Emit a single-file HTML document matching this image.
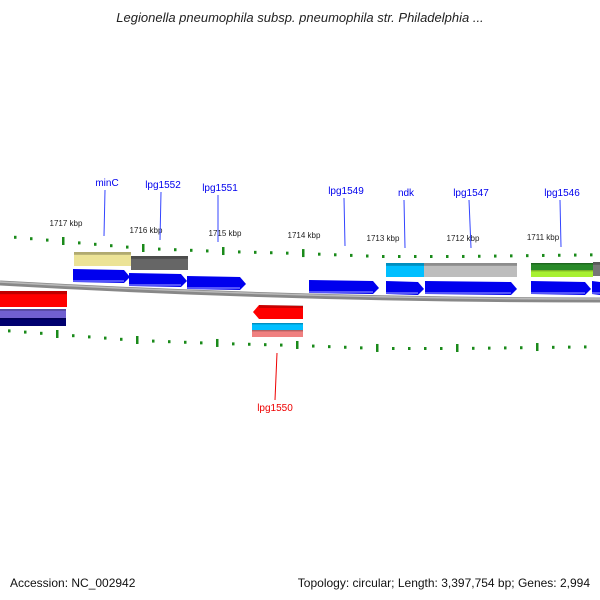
<!DOCTYPE html>
<html><head><meta charset="utf-8"><style>
body{margin:0;background:#fff;}
svg{display:block;font-family:"Liberation Sans",sans-serif;}
</style></head><body>
<svg id="map" width="600" height="600" viewBox="0 0 600 600">
<defs>
<linearGradient id="bb" x1="0" y1="0" x2="0" y2="1"><stop offset="0" stop-color="#aaa"/><stop offset="0.5" stop-color="#777"/><stop offset="1" stop-color="#bbb"/></linearGradient>
</defs>
<text x="300" y="22" text-anchor="middle" font-size="13" font-style="italic" fill="#222">Legionella pneumophila subsp. pneumophila str. Philadelphia ...</text>
<path d="M0,283 Q300,300 600,300" stroke="#888" stroke-width="5" fill="none"/>
<path d="M0,282 Q300,299 600,299" stroke="#bbb" stroke-width="1.5" fill="none"/>
<g id="ticks"></g>
<g id="genes"></g>
<g id="labels"></g>
<text x="10" y="587" font-size="12" fill="#111">Accession: NC_002942</text>
<text x="590" y="587" text-anchor="end" font-size="12" fill="#111">Topology: circular; Length: 3,397,754 bp; Genes: 2,994</text>
</svg>
<script>
const NS="http://www.w3.org/2000/svg";
const kbpLabels=["1717 kbp","1716 kbp","1715 kbp","1714 kbp","1713 kbp","1712 kbp","1711 kbp"];
const upperMajorX=[63,143,222,301,380,460,540];
const upperMajorY=[241,248,251,253,256,256,255];
const lowerMajorX=[57,137,218,298,378,459,539];
const lowerMajorY=[334,340,343,345,348,348,347];
const geneNames=["minC","lpg1552","lpg1551","lpg1549","ndk","lpg1547","lpg1546","lpg1550"];
function mk(t,a,p){const e=document.createElementNS(NS,t);for(const k in a)e.setAttribute(k,a[k]);(p||document.getElementById('map')).appendChild(e);return e;}
function interp(xs,ys,x){if(x<=xs[0])return ys[0]+(ys[1]-ys[0])*(x-xs[0])/(xs[1]-xs[0]);for(let i=0;i<xs.length-1;i++)if(x<=xs[i+1])return ys[i]+(ys[i+1]-ys[i])*(x-xs[i])/(xs[i+1]-xs[i]);const n=xs.length;return ys[n-1]+(ys[n-1]-ys[n-2])*(x-xs[n-1])/(xs[n-1]-xs[n-2]);}
const tg=document.getElementById('ticks');
function row(xs,ys){for(let x=xs[0]-64;x<600;x+=16){if(x<0)continue;const y=interp(xs,ys,x);const major=xs.some(v=>Math.abs(v-x)<3);const r=mk('rect',{x:x-1,y:major?y-4:y-1,width:2.5,height:major?8:3,fill:'#1a8a1a'},tg);}}
row(upperMajorX,upperMajorY);row(lowerMajorX,lowerMajorY);
kbpLabels.forEach((l,i)=>{const t=mk('text',{x:upperMajorX[i]+3,y:upperMajorY[i]-15,'font-size':'8','text-anchor':'middle',fill:'#222'},tg);t.textContent=l;});
const gg=document.getElementById('genes');
function bar(x1,x2,y,h,c,name){const r=mk('rect',{x:x1,y:y,width:x2-x1,height:h,fill:c},gg);mk('rect',{x:x1,y:y,width:x2-x1,height:Math.max(1,h*0.2),fill:'rgba(0,0,0,0.25)'},gg);}
function arrowF(x1,x2,y,h,c,name){const p=mk('polygon',{points:`${x1},${y} ${x2-6},${y+1} ${x2},${y+h/2+1} ${x2-6},${y+h} ${x1},${y+h-1}`,fill:c},gg);mk('rect',{x:x1,y:y+h-3,width:x2-x1-6,height:2,fill:'rgba(120,120,255,0.7)'},gg);}
function arrowR(x1,x2,y,h,c,name){const p=mk('polygon',{points:`${x1},${y+h/2} ${x1+6},${y} ${x2},${y+1} ${x2},${y+h} ${x1+6},${y+h}`,fill:c},gg);mk('rect',{x:x1+6,y:y,width:x2-x1-6,height:3,fill:'rgba(0,0,0,0.2)'},gg);}
bar(74,131,252,14,'#ece396','cog-bar-minC');bar(131,188,256,14,'#666','cog-bar-lpg1552');
bar(386,424,263,14,'#00bfff','cog-bar-ndk');bar(424,517,263,14,'#bdbdbd','cog-bar-lpg1547');
bar(531,593,263,7,'#2a8a2a','cog-bar-lpg1546');bar(531,593,270,7,'#a8f030','cog-bar-lpg1546b');bar(593,600,262,14,'#777','cog-bar-next');
arrowF(73,130,269,14,'#0000ee','gene-minC');arrowF(129,187,273,14,'#0000ee','gene-lpg1552');arrowF(187,246,276,14,'#0000ee','gene-lpg1551');
arrowF(309,379,280,14,'#0000ee','gene-lpg1549');arrowF(386,424,281,14,'#0000ee','gene-ndk');arrowF(425,517,281,14,'#0000ee','gene-lpg1547');
arrowF(531,591,281,14,'#0000ee','gene-lpg1546');arrowF(592,606,281,14,'#0000ee','gene-next');
bar(0,67,291,16,'#ff0000','gene-left-red');bar(0,66,309,9,'#7060d0','cog-bar-left-purple');bar(0,66,318,8,'#000070','cog-bar-left-navy');
arrowR(253,303,305,14,'#ff0000','gene-lpg1550');bar(252,303,323,7,'#00bfff','cog-bar-lpg1550');bar(252,303,330,7,'#f08080','cog-bar-lpg1550b');
const lg=document.getElementById('labels');
const lab=[[107,186,104,236],[163,188,160,240],[220,191,218,242],[346,194,345,246],[406,196,405,248],[471,196,471,248],[562,196,561,247]];
lab.forEach((a,i)=>{mk('line',{x1:a[0]-2,y1:a[1]+4,x2:a[2],y2:a[3],stroke:'#3344ff','stroke-width':1},lg);const t=mk('text',{x:a[0],y:a[1],'font-size':'10','text-anchor':'middle',fill:'#0000ee'},lg);t.textContent=geneNames[i];});
mk('line',{x1:277,y1:353,x2:275,y2:400,stroke:'#ee0000','stroke-width':1},lg);
const t2=mk('text',{x:275,y:411,'font-size':'10','text-anchor':'middle',fill:'#ee0000'},lg);t2.textContent=geneNames[7];


</script>
</body></html>
